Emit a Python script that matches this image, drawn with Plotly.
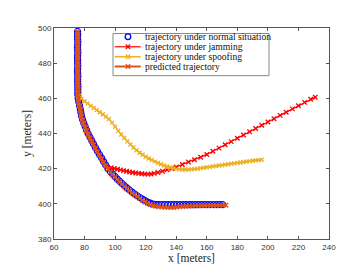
import plotly.graph_objects as go

# ---------------- data ----------------
top_x = [75.4, 75.5, 75.4, 75.5, 75.6, 75.5, 75.4, 75.5, 75.6, 75.5, 75.4, 75.5,
         75.5, 75.6, 75.5, 75.4, 75.5, 75.6, 75.5, 75.5, 75.6, 75.6, 75.6, 75.6, 75.6]
top_y = [498, 496.5, 495, 493.5, 492, 490.5, 489, 487.5, 486, 484.5, 483, 481.5,
         480, 478.5, 477, 475.5, 474, 472.5, 471, 469.5, 468, 466.5, 465, 463.5, 462]

curve_x = [75.8, 76.2, 76.7, 77.2, 77.6, 78.0, 78.7, 79.5, 80.4, 81.3, 82.3, 83.5,
           84.7, 85.9, 87.1, 88.4, 89.8, 91.2, 92.5, 93.9, 95.3, 96.8, 98.3, 99.8,
           101.3, 102.9, 104.5, 106.1, 107.7, 109.4, 111.1, 112.8, 114.5, 116.2,
           117.9, 119.6, 121.3, 123.0, 124.8, 126.6, 128.5]
curve_y = [460, 458, 456, 454, 452, 450, 448, 446, 444, 442, 440, 438,
           436, 434, 432, 430, 428, 426, 424, 422, 420, 418.5, 417, 415.6,
           414.2, 412.9, 411.6, 410.3, 409.1, 407.9, 406.7, 405.6, 404.6, 403.6,
           402.7, 401.8, 401.0, 400.4, 399.9, 399.6, 399.5]

flat_x = [130.5, 132.5, 134.5, 136.5, 138.5, 140.5, 142.5, 144.5, 146.5, 148.5,
          150.5, 152.5, 154.5, 156.5, 158.5, 160.5, 162.5, 164.5, 166.5, 168.5, 170.5]
flat_y = [399.5, 399.5, 399.5, 399.5, 399.5, 399.5, 399.5, 399.5, 399.5, 399.5,
          399.5, 399.5, 399.5, 399.5, 399.5, 399.5, 399.5, 399.5, 399.5, 399.5, 399.5]

normal_x = top_x + curve_x + flat_x
normal_y = top_y + curve_y + flat_y

pred_curve_y = [459.8, 457.7, 455.6, 453.6, 451.6, 449.6, 447.6, 445.6, 443.5, 441.5, 439.5, 437.5,
                435.5, 433.5, 431.5, 429.5, 427.5, 425.5, 423.5, 421.6, 419.6, 418.0, 416.5, 415.1,
                413.7, 412.4, 411.1, 409.8, 408.6, 407.4, 406.2, 405.1, 404.0, 403.0,
                402.0, 401.1, 400.3, 399.6, 399.1, 398.7, 398.4]
pred_flat_x = [130.5, 132.5, 134.5, 136.5, 138.5, 140.5, 142.5, 144.5, 146.5, 148.5,
               150.5, 152.5, 154.5, 156.5, 158.5, 160.5, 162.5, 164.5, 166.5, 168.5, 170.5, 172.5]
pred_flat_y = [398.2, 398.1, 398.0, 397.9, 398.0, 398.2, 398.4, 398.6, 398.7, 398.8,
               398.8, 398.9, 398.9, 399.0, 399.0, 399.0, 399.1, 399.1, 399.1, 399.2, 399.2, 399.2]
pred_x = top_x + curve_x + pred_flat_x
pred_y = top_y + pred_curve_y + pred_flat_y

jam_branch_x = [97.5, 99.5, 101.5, 103.5, 105.5, 107.5, 109.5, 111.5, 113.5, 115.5,
                117.5, 119.5, 121.5, 123.5, 125.5, 128, 131, 134, 137, 140, 144, 148,
                152, 156, 160, 164, 168, 172, 176, 180, 184, 188, 192, 196, 200, 204,
                208, 212, 216, 220, 224, 228, 231]
jam_branch_y = [420.6, 420.1, 419.7, 419.3, 418.9, 418.5, 418.1, 417.8, 417.5, 417.3,
                417.1, 417.0, 416.9, 417.0, 417.3, 417.8, 418.5, 419.3, 420.1, 421.0, 422.4, 423.8,
                425.1, 426.5, 428.1, 429.9, 431.7, 433.6, 435.4, 437.3, 439.1, 441.0, 442.8, 444.7, 446.5, 448.4,
                450.3, 452.1, 454.0, 455.8, 457.7, 459.5, 460.6]
jam_x = top_x + curve_x[:20] + jam_branch_x
jam_y = top_y + curve_y[:20] + jam_branch_y

spoof_branch_x = [76.5, 78, 80, 82, 84, 86, 88, 90, 92, 94, 96, 98, 100, 102, 104, 106,
                  108, 110, 112, 114, 116, 118, 120, 122, 124, 126, 128, 130, 132, 134,
                  136, 138, 140, 142, 144, 146, 148, 150, 152, 154, 156, 158, 160, 162,
                  164, 166, 168, 170, 172, 174, 176, 178, 180, 182, 184, 186, 188, 190,
                  192, 194, 196]
spoof_branch_y = [461.5, 459.8, 458.3, 457.0, 455.7, 454.5, 453.3, 452.1, 450.9, 449.6, 448.2, 446.2,
                  443.8, 441.5, 439.4, 437.4, 435.5, 433.7, 432.0, 430.5, 429.1, 427.9, 426.8,
                  425.8, 424.9, 424.0, 423.2, 422.5, 421.8, 421.2, 420.7, 420.2, 419.9, 419.6,
                  419.5, 419.5, 419.5, 419.6, 419.8, 420.0, 420.3, 420.5, 420.8, 421.0, 421.3,
                  421.5, 421.8, 422.0, 422.3, 422.5, 422.8, 423.0, 423.3, 423.5, 423.8, 424.0,
                  424.3, 424.5, 424.7, 424.9, 425.1]
spoof_x = top_x + spoof_branch_x
spoof_y = top_y + spoof_branch_y

x_ticks = [60, 80, 100, 120, 140, 160, 180, 200, 220, 240]
y_ticks = [380, 400, 420, 440, 460, 480, 500]

legend_labels = ["trajectory under normal situation", "trajectory under jamming",
                 "trajectory under spoofing", "predicted trajectory"]

# ---------------- figure ----------------
BLUE = "#0000FF"
RED = "#FF0000"
YELLOW = "#EDB120"
ORANGE = "#D95319"
SERIF = "Liberation Serif, Times New Roman, serif"
SANS = "Liberation Sans, Arial, sans-serif"

fig = go.Figure()
fig.add_trace(go.Scatter(
    x=normal_x, y=normal_y, mode="markers", name=legend_labels[0], showlegend=False,
    marker=dict(symbol="circle-open", size=6, color=BLUE, line=dict(width=1.2, color=BLUE))))
fig.add_trace(go.Scatter(
    x=jam_x, y=jam_y, mode="lines+markers", name=legend_labels[1], showlegend=False,
    line=dict(color=RED, width=1.2),
    marker=dict(symbol="x-thin", size=4.5, color=RED, line=dict(width=1.3, color=RED))))
fig.add_trace(go.Scatter(
    x=spoof_x, y=spoof_y, mode="lines+markers", name=legend_labels[2], showlegend=False,
    line=dict(color=YELLOW, width=1.5),
    marker=dict(symbol="x-thin", size=4, color=YELLOW, line=dict(width=1.3, color=YELLOW))))
fig.add_trace(go.Scatter(
    x=pred_x, y=pred_y, mode="lines+markers", name=legend_labels[3], showlegend=False,
    line=dict(color=ORANGE, width=2),
    marker=dict(symbol="x-thin", size=4.5, color=ORANGE, line=dict(width=1.5, color=ORANGE))))

axis_common = dict(
    showgrid=False, zeroline=False, showline=True, linecolor="#555555", linewidth=1,
    mirror="ticks", ticks="inside", ticklen=3, tickwidth=1, tickcolor="#555555",
    tickfont=dict(family=SANS, size=8, color="#333333"),
)
fig.update_xaxes(range=[60, 240], tickvals=x_ticks, ticktext=[str(v) for v in x_ticks],
                 title=dict(text="x [meters]", font=dict(family=SERIF, size=11.5, color="#262626"),
                            standoff=2), **axis_common)
fig.update_yaxes(range=[380, 500], tickvals=y_ticks, ticktext=[str(v) for v in y_ticks],
                 title=dict(text="y [meters]", font=dict(family=SERIF, size=11.5, color="#262626"),
                            standoff=4), **axis_common)

# ---------------- compact MATLAB-style legend (paper coordinates) ----------------
L_X0, L_X1 = 0.2145, 0.7818
L_Y0, L_Y1 = 0.774, 0.974
ROW_Y = [0.9585, 0.911, 0.8636, 0.8175]
SAMPLE_X0, SAMPLE_X1, MARK_X, TEXT_X = 0.2207, 0.3153, 0.269, 0.3236
colors = [BLUE, RED, YELLOW, ORANGE]
widths = [0, 1.2, 1.5, 2]

shapes = [dict(type="rect", xref="paper", yref="paper", x0=L_X0, x1=L_X1, y0=L_Y0, y1=L_Y1,
               fillcolor="white", line=dict(color="#888888", width=1), layer="above")]
annotations = []
for i, (lab, c, w, yy) in enumerate(zip(legend_labels, colors, widths, ROW_Y)):
    if i == 0:
        shapes.append(dict(type="circle", xref="paper", yref="paper",
                           xsizemode="pixel", ysizemode="pixel", xanchor=MARK_X, yanchor=yy,
                           x0=-2.8, x1=2.8, y0=-2.8, y1=2.8,
                           line=dict(color=c, width=1.3), layer="above"))
    else:
        shapes.append(dict(type="line", xref="paper", yref="paper",
                           x0=SAMPLE_X0, x1=SAMPLE_X1, y0=yy, y1=yy,
                           line=dict(color=c, width=w), layer="above"))
        for sx in (1, -1):
            shapes.append(dict(type="line", xref="paper", yref="paper",
                               xsizemode="pixel", ysizemode="pixel", xanchor=MARK_X, yanchor=yy,
                               x0=-2.2, x1=2.2, y0=-2.2 * sx, y1=2.2 * sx,
                               line=dict(color=c, width=1.3), layer="above"))
    annotations.append(dict(xref="paper", yref="paper", x=TEXT_X, y=yy, text=lab,
                            showarrow=False, xanchor="left", yanchor="middle",
                            font=dict(family=SERIF, size=9.6, color="#111111")))

fig.update_layout(
    width=354, height=266,
    margin=dict(l=46, r=33, t=20, b=29),
    plot_bgcolor="white", paper_bgcolor="white",
    showlegend=False,
    shapes=shapes, annotations=annotations,
)

fig.write_html("out.html")
